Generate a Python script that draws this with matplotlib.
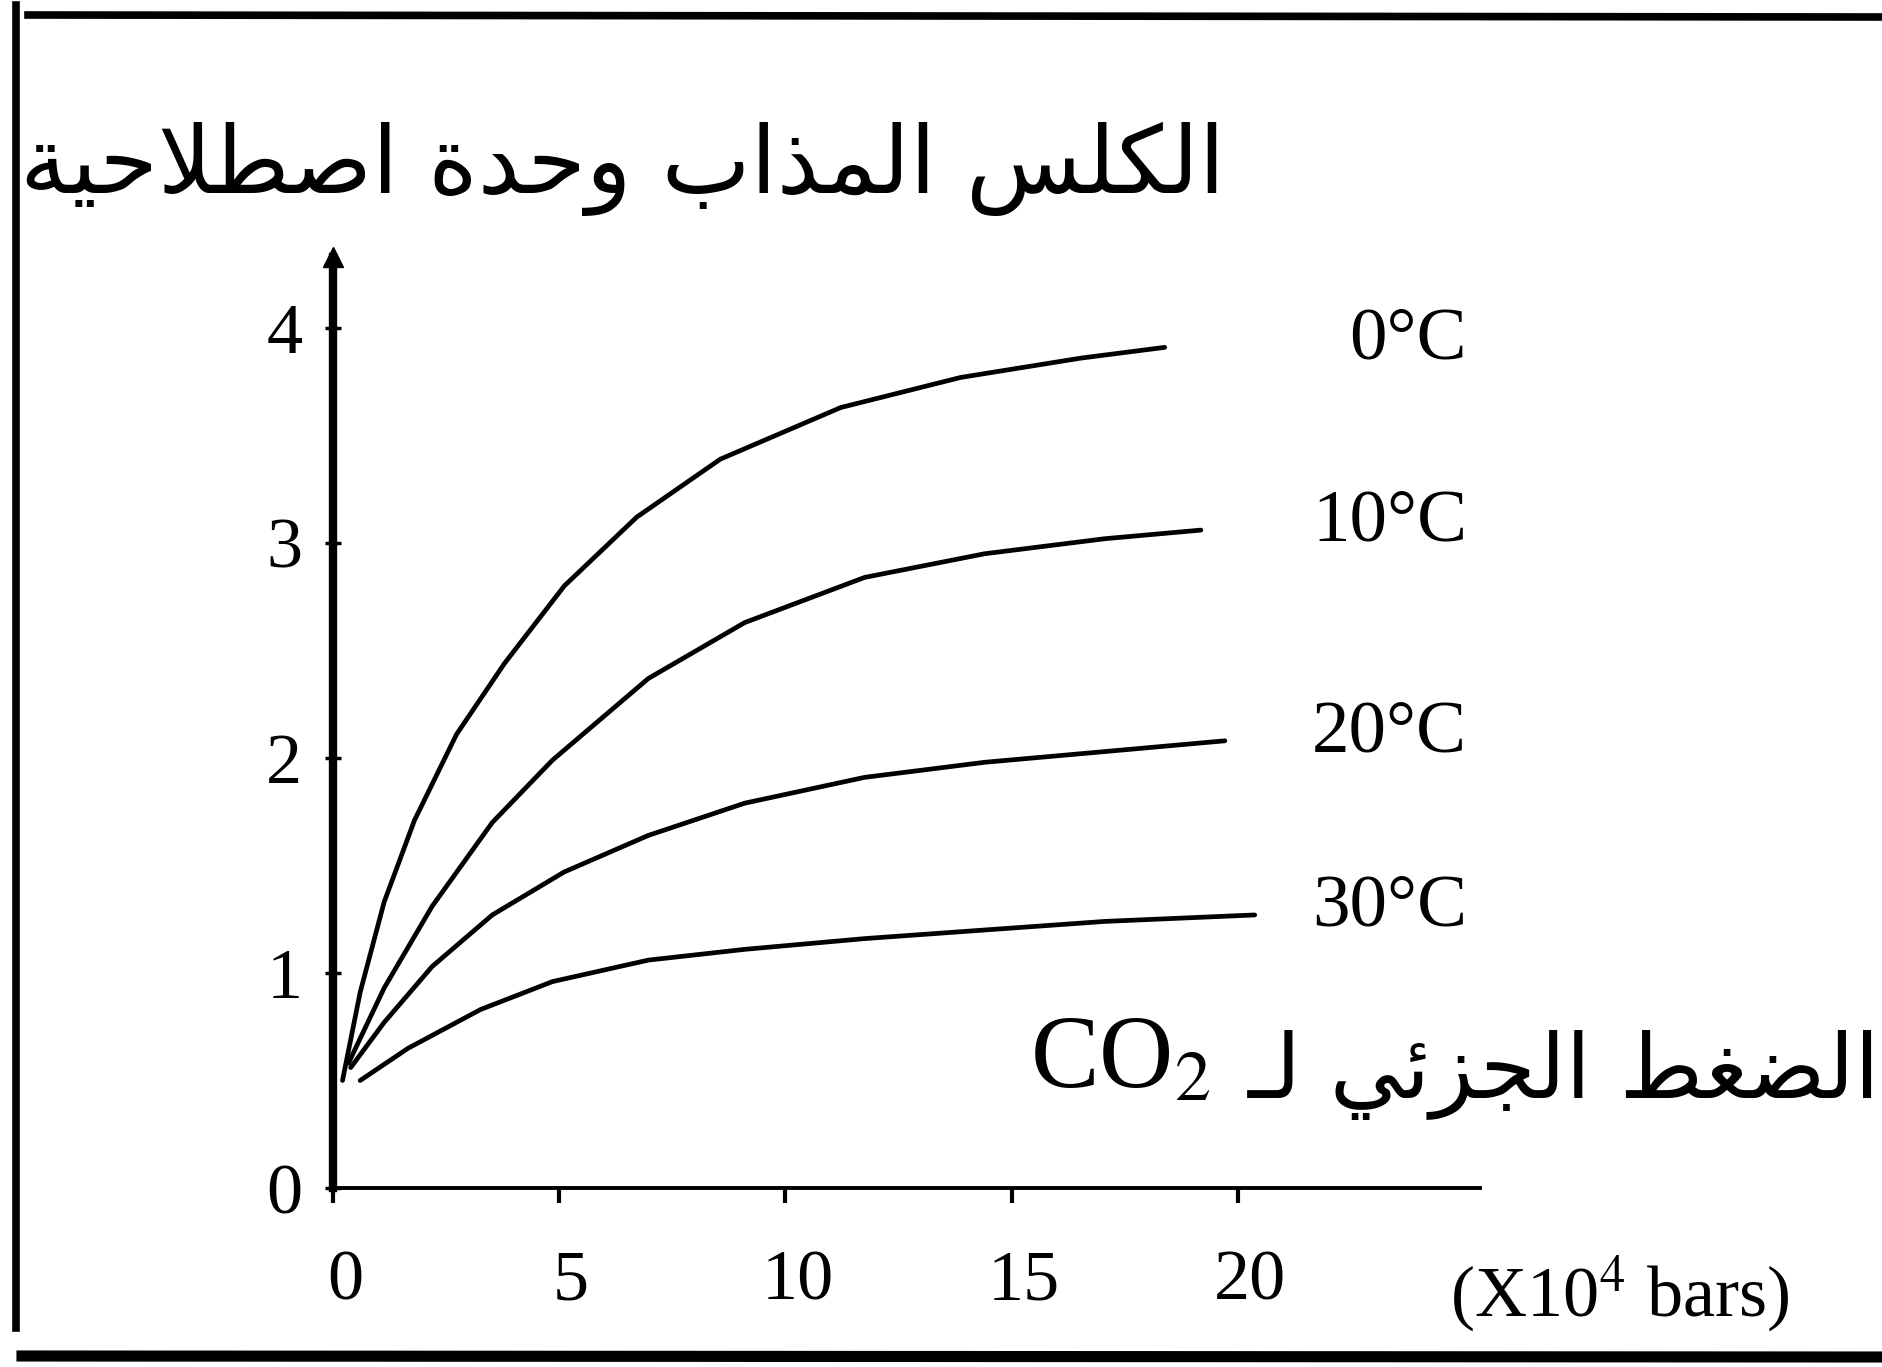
import matplotlib
matplotlib.use("Agg")
import matplotlib.pyplot as plt
from matplotlib.lines import Line2D
from matplotlib.transforms import ScaledTranslation

# ---------------- data ----------------
temps = ["0°C", "10°C", "20°C", "30°C"]

p_0 = [0.21, 0.60, 1.13, 1.80, 2.73, 3.79, 5.11, 6.71, 8.56, 11.22, 13.87, 16.53, 18.38]
c_0 = [0.50, 0.91, 1.33, 1.71, 2.11, 2.44, 2.80, 3.12, 3.39, 3.63, 3.77, 3.86, 3.91]

p_10 = [0.34, 1.13, 2.19, 3.52, 4.85, 6.97, 9.10, 11.75, 14.40, 17.06, 19.18]
c_10 = [0.58, 0.93, 1.31, 1.70, 1.99, 2.37, 2.63, 2.84, 2.95, 3.02, 3.06]

p_20 = [0.39, 1.13, 2.19, 3.52, 5.11, 6.97, 9.10, 11.75, 14.40, 17.06, 19.71]
c_20 = [0.56, 0.77, 1.03, 1.27, 1.47, 1.64, 1.79, 1.91, 1.98, 2.03, 2.08]

p_30 = [0.60, 1.66, 3.26, 4.85, 6.97, 9.10, 11.75, 14.40, 17.06, 20.37]
c_30 = [0.50, 0.65, 0.83, 0.96, 1.06, 1.11, 1.16, 1.20, 1.24, 1.27]

series_p = [p_0, p_10, p_20, p_30]
series_c = [c_0, c_10, c_20, c_30]

x_ticks = [0, 5, 10, 15, 20]
x_tick_labels = ["0", "5", "10", "15", "20"]
y_ticks = [0, 1, 2, 3, 4]
y_tick_labels = ["0", "1", "2", "3", "4"]

title_text = "الكلس المذاب وحدة اصطلاحية"
xlabel_ar = "الضغط الجزئي لـ"
xlabel_chem = r"CO$_2$"
unit_text = r"(X10$^4$ bars)"

# ---------------- minimal Arabic shaping ----------------
FORMS = {
    '\u0626': ('\uFE89', '\uFE8A', '\uFE8B', '\uFE8C'),
    '\u0627': ('\uFE8D', '\uFE8E', None, None),
    '\u0628': ('\uFE8F', '\uFE90', '\uFE91', '\uFE92'),
    '\u0629': ('\uFE93', '\uFE94', None, None),
    '\u062A': ('\uFE95', '\uFE96', '\uFE97', '\uFE98'),
    '\u062C': ('\uFE9D', '\uFE9E', '\uFE9F', '\uFEA0'),
    '\u062D': ('\uFEA1', '\uFEA2', '\uFEA3', '\uFEA4'),
    '\u062F': ('\uFEA9', '\uFEAA', None, None),
    '\u0630': ('\uFEAB', '\uFEAC', None, None),
    '\u0632': ('\uFEAF', '\uFEB0', None, None),
    '\u0633': ('\uFEB1', '\uFEB2', '\uFEB3', '\uFEB4'),
    '\u0635': ('\uFEB9', '\uFEBA', '\uFEBB', '\uFEBC'),
    '\u0636': ('\uFEBD', '\uFEBE', '\uFEBF', '\uFEC0'),
    '\u0637': ('\uFEC1', '\uFEC2', '\uFEC3', '\uFEC4'),
    '\u063A': ('\uFECD', '\uFECE', '\uFECF', '\uFED0'),
    '\u0643': ('\uFED9', '\uFEDA', '\uFEDB', '\uFEDC'),
    '\u0644': ('\uFEDD', '\uFEDE', '\uFEDF', '\uFEE0'),
    '\u0645': ('\uFEE1', '\uFEE2', '\uFEE3', '\uFEE4'),
    '\u0648': ('\uFEED', '\uFEEE', None, None),
    '\u064A': ('\uFEF1', '\uFEF2', '\uFEF3', '\uFEF4'),
    '\u0640': ('\u0640', '\u0640', '\u0640', '\u0640'),
}


def shape_arabic(text):
    toks = []
    i = 0
    while i < len(text):
        if text[i] == '\u0644' and i + 1 < len(text) and text[i + 1] == '\u0627':
            toks.append('LA')
            i += 2
        else:
            toks.append(text[i])
            i += 1

    def j_next(t):
        if t == 'LA':
            return False
        f = FORMS.get(t)
        return f is not None and f[2] is not None

    def j_prev(t):
        if t == 'LA':
            return True
        f = FORMS.get(t)
        return f is not None and f[1] is not None

    out = []
    for k, t in enumerate(toks):
        pc = k > 0 and j_next(toks[k - 1]) and j_prev(t)
        nc = k + 1 < len(toks) and j_next(t) and j_prev(toks[k + 1])
        if t == 'LA':
            out.append('\uFEFC' if pc else '\uFEFB')
            continue
        f = FORMS.get(t)
        if f is None:
            out.append(t)
            continue
        if pc and nc:
            g = f[3]
        elif pc:
            g = f[1]
        elif nc:
            g = f[2]
        else:
            g = f[0]
        out.append(g)
    return ''.join(reversed(out))


# ---------------- figure ----------------
plt.rcParams['font.family'] = ['Liberation Serif', 'DejaVu Serif']
plt.rcParams['mathtext.fontset'] = 'stix'

W, H, DPI = 1883, 1367, 100
fig = plt.figure(figsize=(W / DPI, H / DPI), dpi=DPI, facecolor='white')
ax = fig.add_axes([0, 0, 1, 1])
ax.set_facecolor('white')

# pixel layout of the inner chart
X0_PX, Y0_PX = 333, 1188
PX_PER_X, PX_PER_Y = 45.25, 215.0
ax.set_xlim(-X0_PX / PX_PER_X, (W - X0_PX) / PX_PER_X)
ax.set_ylim(-(H - Y0_PX) / PX_PER_Y, Y0_PX / PX_PER_Y)

for s in ['top', 'right']:
    ax.spines[s].set_visible(False)
ax.spines['left'].set_position(('data', 0))
ax.spines['bottom'].set_position(('data', 0))
ax.spines['left'].set_linewidth(6.0)
ax.spines['bottom'].set_linewidth(2.8)
ax.spines['left'].set_bounds(0, 4.33)
ax.spines['bottom'].set_bounds(0, 25.35)
ax.plot([0], [4.33], marker='^', color='black', markersize=15, clip_on=False)

ax.set_xticks(x_ticks)
ax.set_xticklabels(x_tick_labels)
ax.set_yticks(y_ticks)
ax.set_yticklabels(y_tick_labels)
ax.tick_params(axis='y', direction='inout', length=12, width=2.5, pad=16, labelsize=52)
ax.tick_params(axis='x', direction='out', length=11, width=3, pad=33, labelsize=52)
for lab in ax.get_xticklabels():
    lab.set_transform(lab.get_transform() + ScaledTranslation(0.12, 0, fig.dpi_scale_trans))

# curves
for p, c in zip(series_p, series_c):
    ax.plot(p, c, color='black', lw=3.4, solid_capstyle='round', solid_joinstyle='round')

# curve labels
label_x = 25.06
for t, c in zip(temps, series_c):
    ax.text(label_x, c[-1] - 0.05, t, ha='right', va='baseline', fontsize=54)

# unit label
ax.text(24.69, -0.60, unit_text, ha='left', va='baseline', fontsize=52)

# title (Arabic)
ax.text(19.71, 4.63, shape_arabic(title_text), ha='right', va='baseline',
        fontsize=68, family=['DejaVu Sans'])

# x label: Arabic + CO2
ax.text(34.19, 0.42, shape_arabic(xlabel_ar), ha='right', va='baseline',
        fontsize=65, family=['DejaVu Sans'])
ax.text(19.40, 0.47, xlabel_chem, ha='right', va='baseline', fontsize=74)

# frame lines (figure coordinates)
def fline(x0, y0, x1, y1, lw):
    fig.add_artist(Line2D([x0 / W, x1 / W], [1 - y0 / H, 1 - y1 / H],
                          color='black', lw=lw, transform=fig.transFigure))

fline(28, 15, W, 17, 5.5)
fline(16, 5, 16, 1328, 5.5)
fline(22, 1356, W, 1357, 8.0)

fig.savefig("out.png", dpi=DPI, facecolor='white')
